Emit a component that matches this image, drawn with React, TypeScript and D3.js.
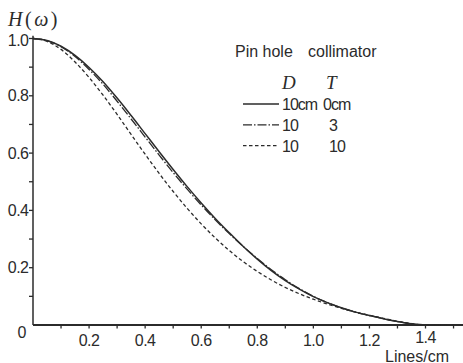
import React from "react";
import * as d3 from "d3";

const freq = [0, 0.05, 0.1, 0.15, 0.2, 0.25, 0.3, 0.35, 0.4, 0.45, 0.5, 0.55, 0.6, 0.65, 0.7, 0.75, 0.8, 0.85, 0.9, 0.95, 1.0, 1.05, 1.1, 1.15, 1.2, 1.25, 1.3, 1.35, 1.4, 1.5];
const hT0 = [1.0, 0.993, 0.973, 0.941, 0.899, 0.849, 0.792, 0.731, 0.668, 0.605, 0.543, 0.483, 0.426, 0.372, 0.322, 0.274, 0.23, 0.19, 0.155, 0.125, 0.099, 0.078, 0.06, 0.045, 0.033, 0.022, 0.012, 0.004, 0.0, 0.0];
const hT3 = [1.0, 0.993, 0.971, 0.937, 0.892, 0.84, 0.781, 0.719, 0.656, 0.593, 0.532, 0.474, 0.419, 0.367, 0.319, 0.274, 0.232, 0.193, 0.158, 0.127, 0.1, 0.078, 0.06, 0.045, 0.033, 0.022, 0.012, 0.004, 0.0, 0.0];
const hT10 = [1.0, 0.99, 0.962, 0.918, 0.864, 0.802, 0.735, 0.665, 0.596, 0.529, 0.466, 0.407, 0.353, 0.304, 0.26, 0.221, 0.187, 0.157, 0.131, 0.109, 0.09, 0.073, 0.058, 0.045, 0.034, 0.023, 0.013, 0.005, 0.0, 0.0];

const xTickLabels = ["0.2", "0.4", "0.6", "0.8", "1.0", "1.2", "1.4"];
const yTickLabels = ["0.2", "0.4", "0.6", "0.8", "1.0"];
const legendD = ["10cm", "10", "10"];
const legendT = ["0cm", "3", "10"];

const W = 463;
const H = 363;
const ink = "#2b2b2b";
const sans = "'Liberation Sans', Arial, sans-serif";
const serif = "'Liberation Serif', 'DejaVu Serif', serif";

export default function App() {
  const x = d3.scaleLinear().domain([0, 1.4]).range([33, 425.5]);
  const y = d3.scaleLinear().domain([0, 1]).range([325, 38.5]);

  const line = d3
    .line<number>()
    .x((_, i) => x(freq[i]))
    .y((d) => y(d))
    .curve(d3.curveMonotoneX);

  const series = [
    { data: hT0, dash: "none", width: 1.5 },
    { data: hT3, dash: "9,2,1.5,2", width: 1.3 },
    { data: hT10, dash: "3.5,2.5", width: 1.3 },
  ];

  const xMinor = d3.range(1, 16).map((i) => i / 10);
  const yMinor = d3.range(1, 11).map((i) => i / 10);

  return (
    <svg
      width={W}
      height={H}
      style={{ position: "absolute", left: 0, top: 0, background: "#fff" }}
    >
      {/* axes */}
      <line x1={x(0)} y1={y(0)} x2={W} y2={y(0)} stroke={ink} strokeWidth={1.8} />
      <line x1={x(0)} y1={y(0)} x2={x(0)} y2={y(1.01)} stroke={ink} strokeWidth={1.5} />

      {xMinor.map((v) => (
        <line key={"xt" + v} x1={x(v)} x2={x(v)} y1={y(0)} y2={y(0) + 3.5} stroke={ink} strokeWidth={1.3} />
      ))}
      {yMinor.map((v) => (
        <line key={"yt" + v} x1={x(0) - 4} x2={x(0)} y1={y(v)} y2={y(v)} stroke={ink} strokeWidth={1.3} />
      ))}

      {xTickLabels.map((t) => (
        <text
          key={"xl" + t}
          x={x(+t)}
          y={t === "1.4" ? 343 : 346}
          textAnchor="middle"
          fontFamily={sans}
          fontSize={16}
          letterSpacing={-0.5}
          fill={ink}
        >
          {t}
        </text>
      ))}
      {yTickLabels.map((t) => (
        <text
          key={"yl" + t}
          x={28.5}
          y={y(+t) + (t === "1.0" ? 7 : 5.5)}
          textAnchor="end"
          fontFamily={sans}
          fontSize={16}
          letterSpacing={-0.5}
          fill={ink}
        >
          {t}
        </text>
      ))}
      <text x={22} y={338} textAnchor="middle" fontFamily={sans} fontSize={16} fill={ink}>
        0
      </text>

      <text x={385} y={361.5} fontFamily={sans} fontSize={16} fill={ink}>
        Lines/cm
      </text>

      <text x={8} y={26} fontFamily={serif} fontSize={20} fill={ink} letterSpacing={2.5}>
        <tspan fontStyle="italic">H</tspan>
        <tspan>(</tspan>
        <tspan fontStyle="italic">ω</tspan>
        <tspan>)</tspan>
      </text>

      {/* curves */}
      {series.map((s, i) => (
        <path
          key={"s" + i}
          d={line(s.data) || ""}
          fill="none"
          stroke={ink}
          strokeWidth={s.width}
          strokeDasharray={s.dash}
        />
      ))}

      {/* legend */}
      <text x={235} y={57} fontFamily={sans} fontSize={16} fill={ink}>
        Pin hole
      </text>
      <text x={308} y={57} fontFamily={sans} fontSize={16} fill={ink}>
        collimator
      </text>
      <text x={282} y={89} fontFamily={serif} fontSize={19} fontStyle="italic" fill={ink}>
        D
      </text>
      <text x={326} y={89} fontFamily={serif} fontSize={19} fontStyle="italic" fill={ink}>
        T
      </text>
      {series.map((s, i) => {
        const cy = 104 + i * 20.8;
        return (
          <g key={"lg" + i}>
            <line x1={243} x2={279} y1={cy} y2={cy} stroke={ink} strokeWidth={s.width} strokeDasharray={s.dash} />
            <text x={282} y={cy + 6} fontFamily={sans} fontSize={16} letterSpacing={-1} fill={ink}>
              {legendD[i]}
            </text>
            <text x={i === 0 ? 323 : 329} y={cy + 6} fontFamily={sans} fontSize={16} letterSpacing={-1} fill={ink}>
              {legendT[i]}
            </text>
          </g>
        );
      })}
    </svg>
  );
}
